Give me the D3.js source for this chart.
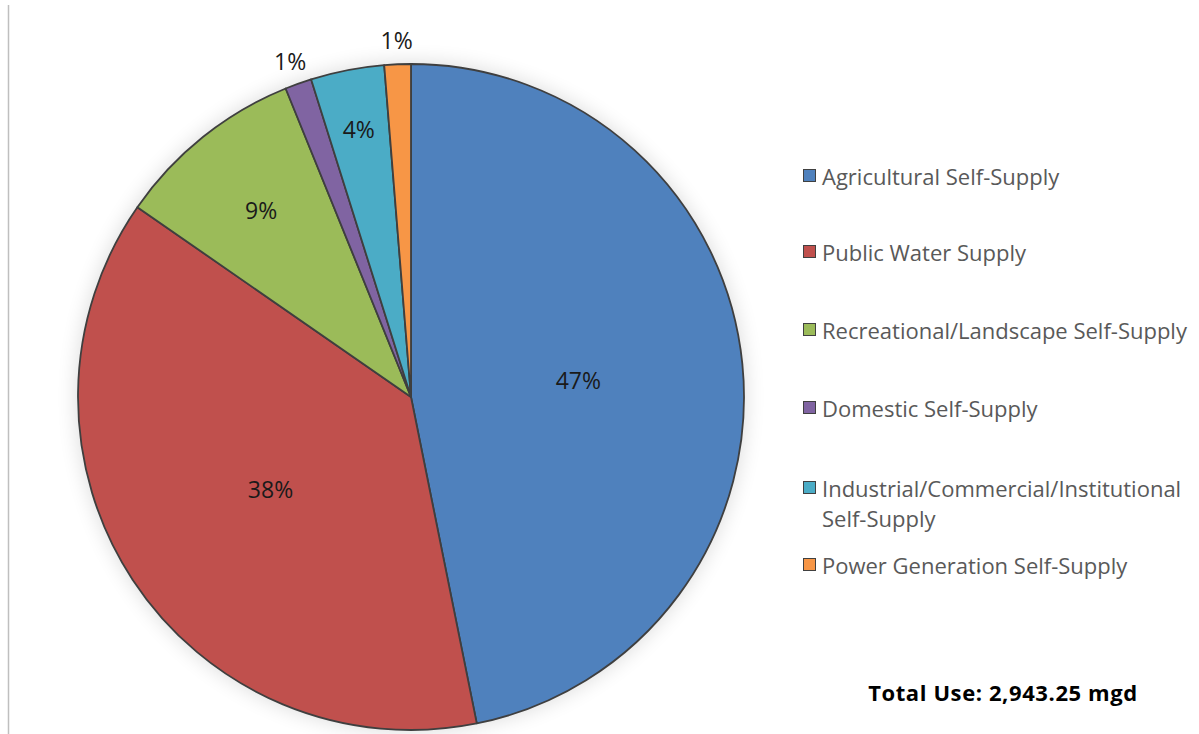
<!DOCTYPE html>
<html><head><meta charset="utf-8">
<script src="https://cdn.jsdelivr.net/npm/d3@7/dist/d3.min.js"></script>
<style>
html,body{margin:0;padding:0;background:#fff;}
svg{display:block;font-family:"Open Sans",Lato,sans-serif;}
</style></head>
<body>
<svg id="chart" width="1199" height="734"></svg>
<script>
const categories = ["Agricultural Self-Supply","Public Water Supply","Recreational/Landscape Self-Supply","Domestic Self-Supply","Industrial/Commercial/Institutional Self-Supply","Power Generation Self-Supply"];
const values = [1378.5, 1113, 271, 38, 105, 37.75];
const colors = ["#4F81BD","#C0504D","#9BBB59","#8064A2","#4BACC6","#F79646"];
const legendLines = [["Agricultural Self-Supply"],["Public Water Supply"],["Recreational/Landscape Self-Supply"],["Domestic Self-Supply"],["Industrial/Commercial/Institutional","Self-Supply"],["Power Generation Self-Supply"]];
const totalLabel = "Total Use: 2,943.25 mgd";

const svg = d3.select("#chart");
const cx = 411, cy = 397, r = 333;

svg.append("line").attr("x1",8.5).attr("x2",8.5).attr("y1",5).attr("y2",734)
  .attr("stroke","#bfbfbf").attr("stroke-width",1.5);

const defs = svg.append("defs");
const f = defs.append("filter").attr("id","shadow").attr("x","-20%").attr("y","-20%").attr("width","140%").attr("height","140%");
f.append("feGaussianBlur").attr("stdDeviation",10);

const g = svg.append("g").attr("transform",`translate(${cx},${cy})`);
g.append("circle").attr("r",r+2).attr("fill","#000").attr("opacity",0.13).attr("filter","url(#shadow)");

const data = categories.map((c,i)=>({cat:c,value:values[i],color:colors[i]}));
const total = d3.sum(values);
const pie = d3.pie().value(d=>d.value).sort(null);
const arcs = pie(data);
const arc = d3.arc().innerRadius(0).outerRadius(r);

g.selectAll("path.slice").data(arcs).join("path").attr("class","slice")
  .attr("d",arc).attr("fill",d=>d.data.color)
  .attr("stroke","#3f3f3f").attr("stroke-width",1.8).attr("stroke-linejoin","round");

function labelRadius(frac){
  if(frac<0.02) return r+24;
  if(frac<0.05) return r*0.82;
  if(frac<0.12) return r*0.72;
  return r*0.505;
}
g.selectAll("text.lbl").data(arcs).join("text").attr("class","lbl")
  .attr("x",d=>{const a=(d.startAngle+d.endAngle)/2; return Math.sin(a)*labelRadius(d.data.value/total);})
  .attr("y",d=>{const a=(d.startAngle+d.endAngle)/2; return -Math.cos(a)*labelRadius(d.data.value/total);})
  .attr("text-anchor","middle").attr("dominant-baseline","central")
  .attr("font-size",23).attr("fill","#1a1a1a")
  .text(d=>d3.format(".0%")(d.data.value/total));

const legendY = [176,252,330,408,488,565];
const lg = svg.append("g");
legendLines.forEach((lines,i)=>{
  const y = legendY[i];
  lg.append("rect").attr("x",803.5).attr("y",y-6.5).attr("width",12).attr("height",12)
    .attr("fill",colors[i]).attr("stroke","#404040").attr("stroke-width",1);
  lines.forEach((t,j)=>{
    lg.append("text").attr("x",822).attr("y",y+j*30).attr("dominant-baseline","central")
      .attr("font-size",22).attr("fill","#595959").text(t);
  });
});

svg.append("text").attr("x",1003).attr("y",692).attr("text-anchor","middle").attr("dominant-baseline","central")
  .attr("font-size",22).attr("font-weight","bold").attr("letter-spacing",0.6).attr("fill","#000").text(totalLabel);
</script>
</body></html>
